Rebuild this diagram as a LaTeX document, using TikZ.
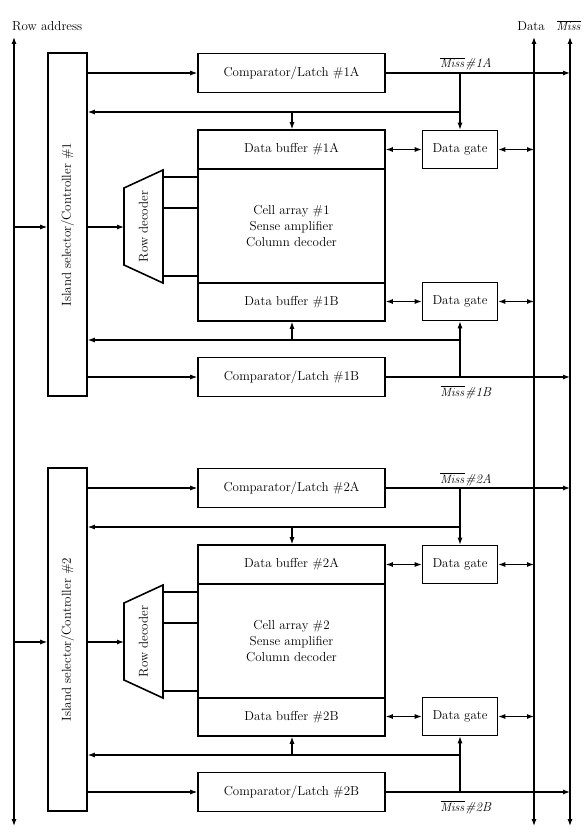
\documentclass[tikz,border=0pt]{standalone}
\usetikzlibrary{arrows.meta}
\newcommand\myfs{\fontsize{13}{16}\selectfont}
\begin{document}
\begin{tikzpicture}[x=1pt,y=-1pt,
  box/.style={draw,line width=1.6pt,inner sep=0pt,font=\myfs,align=center},
  lbl/.style={font=\myfs,inner sep=0pt},
  conn/.style={line width=1.1pt},
  arr/.style={conn,-{Latex[length=7pt,width=5pt]}},
  darr/.style={conn,{Latex[length=7pt,width=5pt]}-{Latex[length=7pt,width=5pt]}},
]
\useasboundingbox (0,0) rectangle (588,832);

% buses
\coordinate (raT) at (14,37);  \coordinate (raB) at (14,826);
\coordinate (dT) at (534,37);  \coordinate (dB) at (534,826);
\coordinate (mT) at (570,37);  \coordinate (mB) at (570,826);
\draw[darr] (raB) -- (raT);
\draw[darr] (dB) -- (dT);
\draw[darr] (mB) -- (mT);
\node[lbl,anchor=base west] (ralbl) at (12,31) {Row address};
\node[lbl,anchor=base] (dlbl) at (531,31) {Data};
\node[lbl,anchor=base] (mlbl) at (569,31) {$\overline{\mathit{Miss}}$};

\foreach \i/\o in {1/0,2/415}{
  % controller
  \node[box,minimum width=39,minimum height=343] (ctl\i) at (67.5,224.5+\o) {};
  \node[lbl,rotate=90] (ctlt\i) at (ctl\i.center) {Island selector/Controller \#\i};
  % comparators
  \node[box,minimum width=187,minimum height=39] (cmpA\i) at (291.5,73+\o) {Comparator/Latch \#\i A};
  \node[box,minimum width=187,minimum height=39] (cmpB\i) at (291.5,377+\o) {Comparator/Latch \#\i B};
  % buffers and array
  \node[box,minimum width=187,minimum height=39] (dbA\i) at (291.5,149.5+\o) {Data buffer \#\i A};
  \node[box,minimum width=187,minimum height=114] (cell\i) at (291.5,226+\o) {Cell array \#\i\\Sense amplifier\\Column decoder};
  \node[box,minimum width=187,minimum height=38] (dbB\i) at (291.5,302+\o) {Data buffer \#\i B};
  % data gates
  \node[box,minimum width=75,minimum height=38] (dgA\i) at (460,149.5+\o) {Data gate};
  \node[box,minimum width=75,minimum height=38] (dgB\i) at (460,301.5+\o) {Data gate};
  % row decoder
  \draw[line width=1.6pt] (124,188+\o) -- (163,170+\o) -- (163,283+\o) -- (124,265+\o) -- cycle;
  \node[lbl,rotate=90] (rd\i) at (143.5,226.5+\o) {Row decoder};
  \coordinate (rdin\i) at (124,227+\o);
  \foreach \k/\yy in {a/177,b/208,c/276}{
    \coordinate (rdo\i\k) at (163,\yy+\o);
    \draw[conn] (rdo\i\k) -- (rdo\i\k -| cell\i.west);
  }
  % row address in
  \coordinate (rain\i) at (14,227+\o);
  \draw[arr] (rain\i) -- (rain\i -| ctl\i.west);
  \draw[arr] (rdin\i -| ctl\i.east) -- (rdin\i);
  % controller -> comparators
  \draw[arr] (ctl\i.east |- cmpA\i.west) -- (cmpA\i.west);
  \draw[arr] (ctl\i.east |- cmpB\i.west) -- (cmpB\i.west);
  % miss lines
  \draw[arr] (cmpA\i.east) -- (cmpA\i.east -| mT);
  \draw[arr] (cmpB\i.east) -- (cmpB\i.east -| mT);
  \node[lbl,anchor=base] (mA\i) at (466,68+\o) {$\overline{\mathit{Miss}}$\textit{\#\i A}};
  \node[lbl,anchor=base] (mB\i) at (466,396+\o) {$\overline{\mathit{Miss}}$\textit{\#\i B}};
  % upper feedback
  \coordinate (jA\i) at (dgA\i.north |- cmpA\i.east);
  \coordinate (fA\i) at (dgA\i.north |- 0,112+\o);
  \draw[arr] (jA\i) -- (dgA\i.north);
  \draw[arr] (fA\i) -- (fA\i -| ctl\i.east);
  \coordinate (bA\i) at (292,112+\o);
  \draw[arr] (bA\i) -- (bA\i |- dbA\i.north);
  % lower feedback
  \coordinate (jB\i) at (dgB\i.south |- cmpB\i.east);
  \coordinate (fB\i) at (dgB\i.south |- 0,340+\o);
  \draw[arr] (jB\i) -- (dgB\i.south);
  \draw[arr] (fB\i) -- (fB\i -| ctl\i.east);
  \coordinate (bB\i) at (292,340+\o);
  \draw[arr] (bB\i) -- (bB\i |- dbB\i.south);
  % data gate connections
  \draw[darr] (dbA\i.east) -- (dgA\i.west);
  \draw[darr] (dgA\i.east) -- (dgA\i.east -| dT);
  \draw[darr] (dbB\i.east |- dgB\i.west) -- (dgB\i.west);
  \draw[darr] (dgB\i.east) -- (dgB\i.east -| dT);
}
\end{tikzpicture}
\end{document}
